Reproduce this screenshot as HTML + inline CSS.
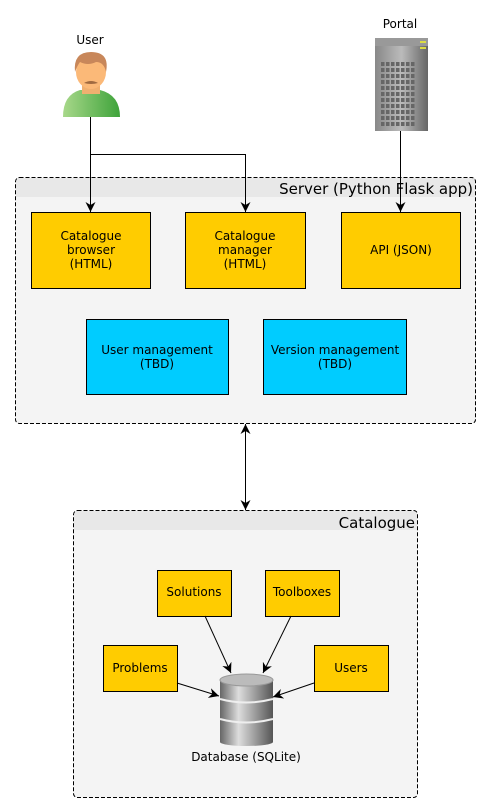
<!DOCTYPE html>
<html><head><meta charset="utf-8"><style>body{margin:0;background:#fff}svg{display:block}text{font-family:"DejaVu Sans","Liberation Sans",sans-serif}</style></head><body>
<svg width="491" height="812" viewBox="0 0 491 812" xmlns="http://www.w3.org/2000/svg">
<defs>
<marker id="a" viewBox="0 0 10 10" refX="10" refY="5" markerUnits="userSpaceOnUse" markerWidth="10" markerHeight="10" orient="auto-start-reverse"><path d="M0,0 L10,5 L0,10 L3,5 z" fill="#000"/></marker>
<linearGradient id="g" x1="0" x2="1"><stop offset="0" stop-color="#666"/><stop offset=".35" stop-color="#ddd"/><stop offset=".6" stop-color="#aaa"/><stop offset="1" stop-color="#555"/></linearGradient>
<linearGradient id="sv" x1="0" x2="1"><stop offset="0" stop-color="#888"/><stop offset=".5" stop-color="#bbb"/><stop offset="1" stop-color="#666"/></linearGradient>
<linearGradient id="sh" x1="0" x2="1"><stop offset="0" stop-color="#a8d88a"/><stop offset="1" stop-color="#3ea33a"/></linearGradient>
<pattern id="win" width="5" height="6" patternUnits="userSpaceOnUse" x="381" y="62"><rect width="3.5" height="4" fill="#666"/></pattern>
</defs>
<rect x="15.5" y="177.5" width="460" height="246" rx="4" fill="#f4f4f4"/>
<rect x="16" y="178" width="459" height="19" fill="#e8e8e8"/>
<rect x="15.5" y="177.5" width="460" height="246" rx="4" fill="none" stroke="#000" stroke-dasharray="4,2"/>
<text x="473" y="194" font-size="15" text-anchor="end">Server (Python Flask app)</text>
<rect x="73.5" y="510.5" width="344" height="287" rx="4" fill="#f4f4f4"/>
<rect x="74" y="511" width="343" height="19" fill="#e8e8e8"/>
<rect x="73.5" y="510.5" width="344" height="287" rx="4" fill="none" stroke="#000" stroke-dasharray="4,2"/>
<text x="415" y="528" font-size="15" text-anchor="end">Catalogue</text>
<g stroke="#000" fill="#ffcc00">
<rect x="31.5" y="212.5" width="119" height="76"/>
<rect x="185.5" y="212.5" width="120" height="76"/>
<rect x="341.5" y="212.5" width="119" height="76"/>
<rect x="86.5" y="319.5" width="142" height="75" fill="#00ccff"/>
<rect x="263.5" y="319.5" width="143" height="75" fill="#00ccff"/>
<rect x="157.5" y="570.5" width="74" height="46"/>
<rect x="265.5" y="570.5" width="74" height="46"/>
<rect x="103.5" y="645.5" width="74" height="46"/>
<rect x="314.5" y="645.5" width="74" height="46"/>
</g>
<g font-size="12" text-anchor="middle">
<text x="91" y="240">Catalogue</text><text x="91" y="254">browser</text><text x="91" y="268">(HTML)</text>
<text x="245" y="240">Catalogue</text><text x="245" y="254">manager</text><text x="245" y="268">(HTML)</text>
<text x="401" y="254">API (JSON)</text>
<text x="157" y="354">User management</text><text x="157" y="368">(TBD)</text>
<text x="335" y="354">Version management</text><text x="335" y="368">(TBD)</text>
<text x="194" y="596">Solutions</text>
<text x="302" y="596">Toolboxes</text>
<text x="140" y="672">Problems</text>
<text x="351" y="672">Users</text>
<text x="246" y="761">Database (SQLite)</text>
<text x="90" y="44">User</text>
<text x="400" y="28">Portal</text>
</g>
<g stroke="#000" fill="none" stroke-width="1">
<path d="M90.5,117 V212" marker-end="url(#a)"/>
<path d="M90.5,154.5 H245.5 V212" marker-end="url(#a)"/>
<path d="M400.5,131 V212" marker-end="url(#a)"/>
<path d="M245.5,424 V510" marker-start="url(#a)" marker-end="url(#a)"/>
<path d="M205,616 L231,673" marker-end="url(#a)"/>
<path d="M291,616 L263,673" marker-end="url(#a)"/>
<path d="M177,683 L219,696" marker-end="url(#a)"/>
<path d="M314,683 L273,697" marker-end="url(#a)"/>
</g>
<path d="M63,117 Q63,95 80,90 L100,90 Q120,95 120,117 Z" fill="url(#sh)"/>
<rect x="82" y="84" width="18" height="10" fill="#f0b070"/>
<ellipse cx="91" cy="72" rx="15" ry="17" fill="#fbb978"/>
<path d="M75,72 Q73,52 91,52 Q110,52 106,72 Q104,62 96,62 Q88,66 80,62 Q77,66 75,72Z" fill="#c8875a"/>
<path d="M84,83 Q91,79 98,83 Q91,85 84,83Z" fill="#a06a40"/>
<rect x="375" y="38" width="53" height="93" fill="url(#sv)"/>
<rect x="375" y="38" width="53" height="8" fill="#999"/>
<rect x="420" y="41" width="6" height="2" fill="#dd4"/><rect x="420" y="47" width="6" height="2" fill="#dd4"/>
<rect x="381" y="62" width="35" height="66" fill="url(#win)"/>
<rect x="220" y="680" width="53" height="62" fill="url(#g)"/>
<ellipse cx="246.5" cy="742" rx="26.5" ry="4" fill="url(#g)"/>
<ellipse cx="246.5" cy="680" rx="26.5" ry="6" fill="#bbb" stroke="#999"/>
<path d="M220,699 Q246,706 273,699" stroke="#eee" stroke-width="2" fill="none"/>
<path d="M220,719 Q246,726 273,719" stroke="#eee" stroke-width="2" fill="none"/>
</svg>
</body></html>
